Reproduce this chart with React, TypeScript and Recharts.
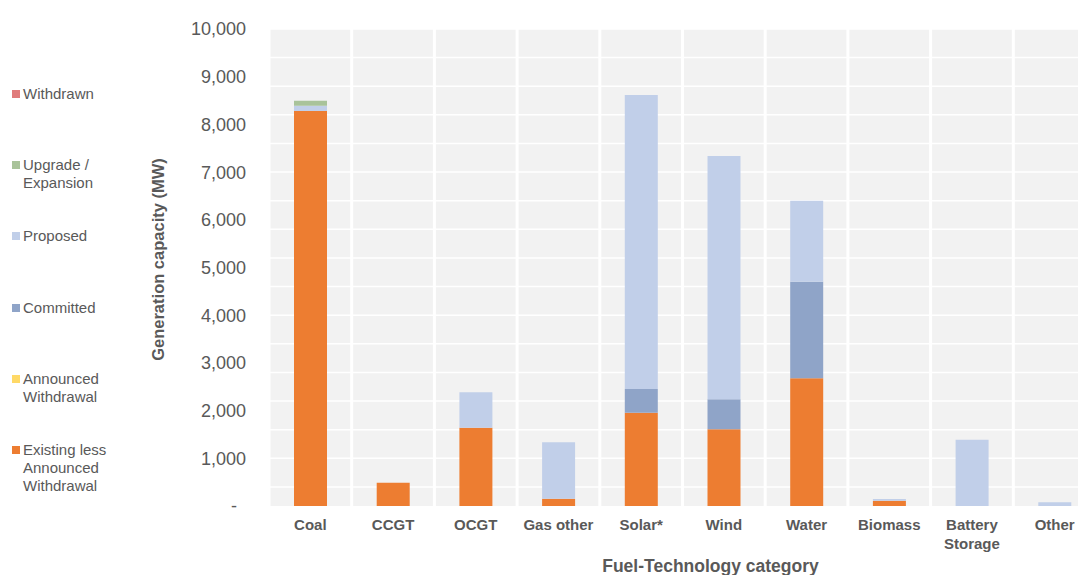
import React from "react";
import { BarChart, Bar, XAxis, YAxis, CartesianGrid, Legend, Label } from "recharts";

const FONT = "'Liberation Sans', Arial, sans-serif";
const TEXT = "#595959";

// categories along the x axis
const categories = ["Coal", "CCGT", "OCGT", "Gas other", "Solar*", "Wind", "Water", "Biomass", "Battery Storage", "Other"];

// MW values per stack segment
const existingLessAnnounced = [8280, 490, 1640, 150, 1955, 1610, 2680, 110, 0, 0];
const announcedWithdrawal = [0, 0, 0, 0, 0, 0, 0, 0, 0, 0];
const committed = [0, 0, 0, 0, 500, 630, 2020, 0, 0, 0];
const proposed = [110, 0, 745, 1185, 6160, 5100, 1700, 35, 1390, 80];
const upgradeExpansion = [105, 0, 0, 0, 0, 0, 0, 0, 0, 0];
const withdrawn = [0, 0, 0, 0, 0, 0, 0, 0, 0, 0];

const yTicks = [0, 1000, 2000, 3000, 4000, 5000, 6000, 7000, 8000, 9000, 10000];
const gridStep = 200;

const series = [
  { key: "existing", name: "Existing less Announced Withdrawal", color: "#ED7D31", values: existingLessAnnounced },
  { key: "announced", name: "Announced Withdrawal", color: "#FFD966", values: announcedWithdrawal },
  { key: "committed", name: "Committed", color: "#8FA4C8", values: committed },
  { key: "proposed", name: "Proposed", color: "#C1CFE9", values: proposed },
  { key: "upgrade", name: "Upgrade / Expansion", color: "#A9C39A", values: upgradeExpansion },
  { key: "withdrawn", name: "Withdrawn", color: "#E07B7B", values: withdrawn },
];

const data = categories.map((category, i) => {
  const row: Record<string, any> = { category };
  series.forEach((s) => (row[s.key] = s.values[i]));
  return row;
});

const gridValues: number[] = [];
for (let v = 0; v <= 10000; v += gridStep) gridValues.push(v);

const fmt = (v: number) => (v === 0 ? "-" : v.toLocaleString("en-US"));

const YTick = (props: any) => {
  const { y, payload } = props;
  return (
    <text x={payload.value === 0 ? 237 : 246} y={y} dy="0.36em" textAnchor="end" fill={TEXT} fontSize={18} fontFamily={FONT}>
      {fmt(payload.value)}
    </text>
  );
};

const XTick = (props: any) => {
  const { x, payload } = props;
  const label: string = payload.value;
  const lines = label.length > 10 ? label.split(" ") : [label];
  return (
    <text x={x} y={530} textAnchor="middle" fill={TEXT} fontSize={15} fontWeight="bold" fontFamily={FONT}>
      {lines.map((l, i) => (
        <tspan key={i} x={x} dy={i === 0 ? 0 : 19}>
          {l}
        </tspan>
      ))}
    </text>
  );
};

// legend runs top-down in reverse stack order (Withdrawn first)
const renderLegend = (props: any) => {
  const payload: any[] = props.payload || [];
  const items = [...series].reverse().map((s) => {
    const p = payload.find((e) => e.dataKey === s.key);
    return { value: p ? p.value : s.name, color: p ? p.color : s.color };
  });
  return (
    <div style={{ width: 113, fontFamily: FONT, fontSize: 15, color: TEXT, lineHeight: "18px" }}>
      {items.map((it) => (
        <div key={it.value} style={{ height: 71.4, display: "flex", alignItems: "flex-start" }}>
          <span style={{ width: 8, height: 8, background: it.color, marginTop: 5, marginLeft: 12, marginRight: 3, flex: "none" }} />
          <span style={{ width: 92 }}>{it.value}</span>
        </div>
      ))}
    </div>
  );
};

export default function App() {
  return (
    <div style={{ position: "absolute", left: 0, top: 0, width: 1078, height: 575, overflow: "hidden", background: "#fff" }}>
      <BarChart width={1100} height={575} data={data} margin={{ top: 29, right: 4, bottom: 0, left: 0 }}>
        <CartesianGrid vertical={false} horizontalValues={gridValues} stroke="#fff" strokeWidth={1.5} fill="#F2F2F2" />
        <CartesianGrid
          horizontal={false}
          stroke="#fff"
          strokeWidth={3}
          verticalCoordinatesGenerator={({ offset }: any) =>
            [...categories, ""].map((_, i) => offset.left + (i * offset.width) / categories.length)
          }
        />
        <XAxis dataKey="category" height={69} axisLine={false} tickLine={false} interval={0} tick={<XTick />}>
          <Label
            content={({ viewBox }: any) => (
              <text
                x={viewBox.x + viewBox.width / 2 + 28}
                y={viewBox.y + 66}
                textAnchor="middle"
                fill={TEXT}
                fontSize={17.5}
                fontWeight="bold"
                fontFamily={FONT}
              >
                Fuel-Technology category
              </text>
            )}
          />
        </XAxis>
        <YAxis width={156} domain={[0, 10000]} ticks={yTicks} axisLine={false} tickLine={false} tick={<YTick />}>
          <Label
            content={({ viewBox }: any) => {
              const cx = viewBox.x + 45;
              const cy = viewBox.y + viewBox.height / 2 - 8;
              return (
                <text
                  x={cx}
                  y={cy}
                  transform={`rotate(-90 ${cx} ${cy})`}
                  textAnchor="middle"
                  dy="0.36em"
                  fill={TEXT}
                  fontSize={16.5}
                  fontWeight="bold"
                  fontFamily={FONT}
                >
                  Generation capacity (MW)
                </text>
              );
            }}
          />
        </YAxis>
        <Legend
          layout="vertical"
          align="left"
          verticalAlign="top"
          width={113}
          content={renderLegend}
          wrapperStyle={{ left: 0, top: 84.5, width: 113 }}
        />
        {series.map((s) => (
          <Bar key={s.key} dataKey={s.key} name={s.name} stackId="a" fill={s.color} barSize={33} isAnimationActive={false} />
        ))}
      </BarChart>
    </div>
  );
}
